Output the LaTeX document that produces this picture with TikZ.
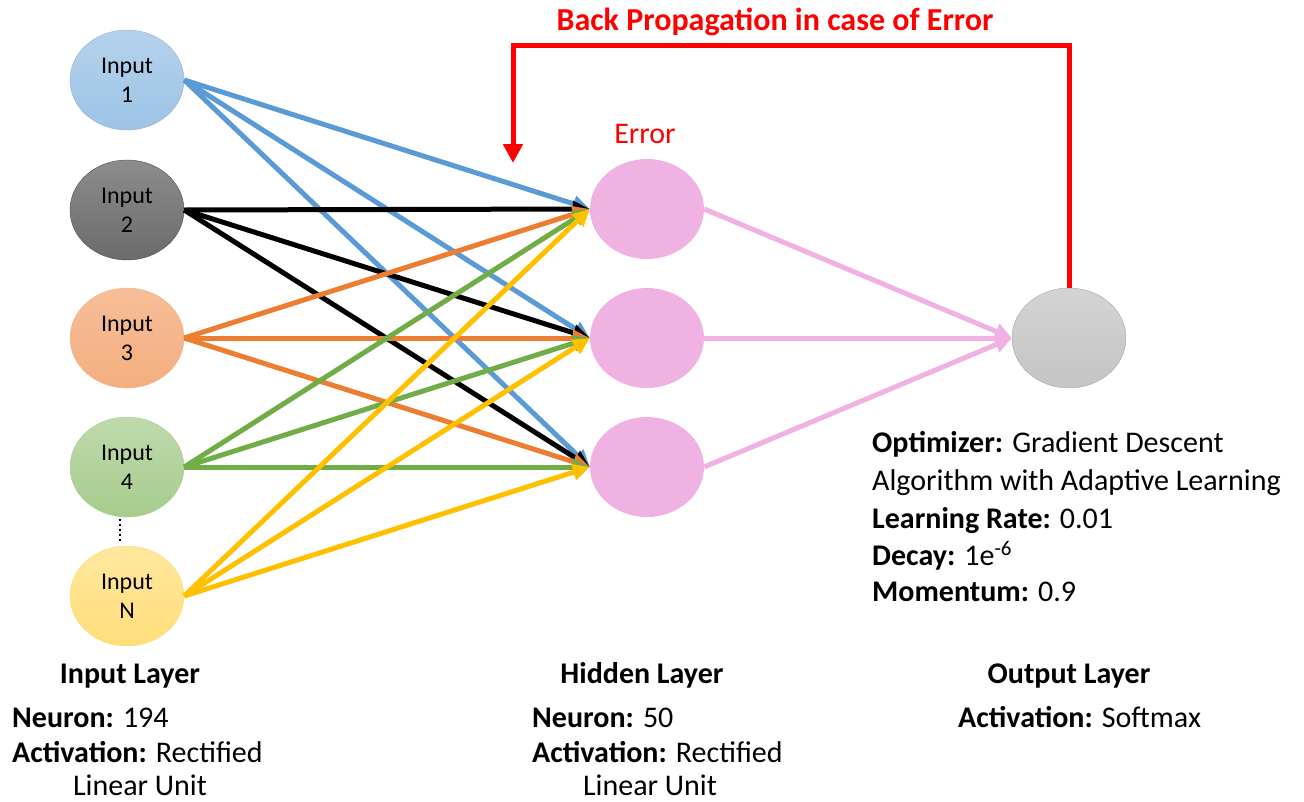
\documentclass[tikz,border=0pt]{standalone}
\usepackage{fontspec}
\setmainfont{Carlito}
\usetikzlibrary{arrows.meta,shapes.geometric}
\definecolor{cblue}{HTML}{5B9BD5}
\definecolor{corange}{HTML}{ED7D31}
\definecolor{cgreen}{HTML}{70AD47}
\definecolor{cyellow}{HTML}{FFC000}
\definecolor{cpink}{HTML}{F0B2E2}
\definecolor{cred}{HTML}{FF0000}
\begin{document}
\begin{tikzpicture}[x=1pt,y=-1pt,
  neuron/.style={ellipse, minimum width=114pt, minimum height=100pt, inner sep=0pt,
    align=center, font=\fontsize{24}{29}\selectfont},
  conn/.style={line width=5pt, -{Triangle[length=17pt,width=16pt]}},
  pconn/.style={conn, cpink},
  txt/.style={font=\fontsize{30}{36}\selectfont, inner sep=0pt},
  head/.style={font=\fontsize{30}{36}\selectfont\bfseries, inner sep=0pt}]
\useasboundingbox (0,0) rectangle (1304,801);
% input nodes
\node[neuron, draw=cblue!80!black!60, top color=cblue!45, bottom color=cblue!60] (i1) at (127,80) {Input\\1};
\node[neuron, draw=black!70, top color=black!45, bottom color=black!58] (i2) at (127,210) {Input\\2};
\node[neuron, draw=corange!60, top color=corange!50, bottom color=corange!62] (i3) at (127,338) {Input\\3};
\node[neuron, draw=cgreen!60, top color=cgreen!45, bottom color=cgreen!62] (i4) at (127,467) {Input\\4};
\node[neuron, draw=cyellow!60, top color=cyellow!38, bottom color=cyellow!52] (iN) at (127,596) {Input\\N};
\coordinate (d1) at (120,519);
\coordinate (d2) at (120,541);
\draw[line width=2pt, dash pattern=on 2pt off 3pt] (d1) -- (d2);
% hidden nodes
\node[neuron, fill=cpink] (h1) at (647,209) {};
\node[neuron, fill=cpink] (h2) at (647,338) {};
\node[neuron, fill=cpink] (h3) at (647,467) {};
% output
\node[neuron, draw=black!35, top color=black!17, bottom color=black!23] (o) at (1069,338) {};
% connections
\foreach \h in {h1,h2,h3} \draw[conn, cblue] (i1.east) -- (\h.west);
\foreach \h in {h1,h2,h3} \draw[conn, black] (i2.east) -- (\h.west);
\foreach \h in {h1,h2,h3} \draw[conn, corange] (i3.east) -- (\h.west);
\foreach \h in {h1,h2,h3} \draw[conn, cgreen] (i4.east) -- (\h.west);
\foreach \h in {h1,h2,h3} \draw[conn, cyellow] (iN.east) -- (\h.west);
\foreach \h in {h1,h2,h3} \draw[pconn] (\h.east) -- (o.west);
% back propagation
\coordinate (bpc) at (513,45);
\coordinate (bpt) at (513,163);
\draw[cred, line width=5pt, -{Triangle[length=19pt,width=19pt]}] (o.north) |- (bpc) -- (bpt);
\node[font=\fontsize{32}{38}\selectfont\bfseries, text=cred, inner sep=0pt, anchor=base] (bptitle) at (775,30) {Back Propagation in case of Error};
\node[txt, text=cred, anchor=base] (err) at (645,143) {Error};
% optimizer text
\node[txt, anchor=base west] (t1) at (872,452) {\textbf{Optimizer:} Gradient Descent};
\node[txt, anchor=base west] (t2) at (872,490) {Algorithm with Adaptive Learning};
\node[txt, anchor=base west] (t3) at (872,528) {\textbf{Learning Rate:} 0.01};
\node[txt, anchor=base west] (t4) at (872,565) {\textbf{Decay:} 1e\textsuperscript{-6}};
\node[txt, anchor=base west] (t5) at (872,601) {\textbf{Momentum:} 0.9};
% bottom labels
\node[head, anchor=base] (l1) at (130,683) {Input Layer};
\node[txt, anchor=base west] (l1a) at (12,727) {\textbf{Neuron:} 194};
\node[txt, anchor=base west] (l1b) at (12,762) {\textbf{Activation:} Rectified};
\node[txt, anchor=base] (l1c) at (140,795) {Linear Unit};
\node[head, anchor=base] (l2) at (642,683) {Hidden Layer};
\node[txt, anchor=base west] (l2a) at (532,727) {\textbf{Neuron:} 50};
\node[txt, anchor=base west] (l2b) at (532,762) {\textbf{Activation:} Rectified};
\node[txt, anchor=base] (l2c) at (650,795) {Linear Unit};
\node[head, anchor=base] (l3) at (1069,683) {Output Layer};
\node[txt, anchor=base west] (l3a) at (958,727) {\textbf{Activation:} Softmax};
\end{tikzpicture}
\end{document}
